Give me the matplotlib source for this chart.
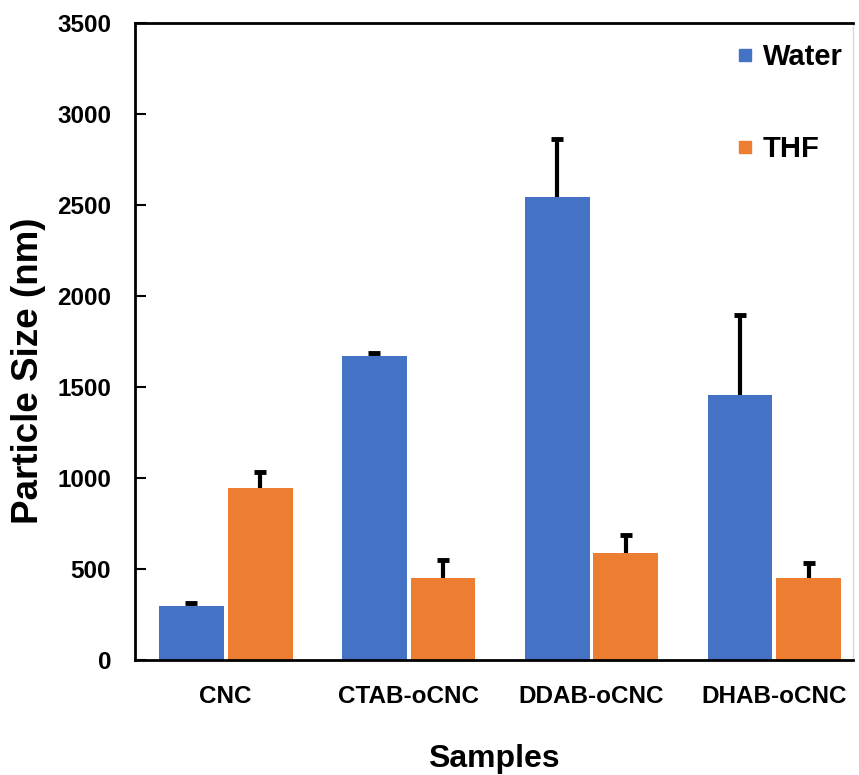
import matplotlib
matplotlib.use("Agg")
import matplotlib.pyplot as plt
from matplotlib.lines import Line2D
import numpy as np

plt.rcParams['font.family'] = ['Liberation Sans', 'DejaVu Sans']
plt.rcParams['font.weight'] = 'bold'

# data
samples = ["CNC", "CTAB-oCNC", "DDAB-oCNC", "DHAB-oCNC"]
water = [297, 1670, 2544, 1456]
water_err = [18, 20, 320, 440]
thf = [945, 450, 588, 450]
thf_err = [90, 100, 98, 83]

blue = "#4472C4"
orange = "#ED7D31"

fig = plt.figure(figsize=(8.59, 7.75), dpi=100)
ax = fig.add_axes([0.157, 0.148, 0.836, 0.822])

x = np.arange(len(samples))
w = 0.355
off = 0.188

ax.bar(x - off, water, width=w, color=blue, zorder=2)
ax.bar(x + off, thf, width=w, color=orange, zorder=2)

# one-sided error bars (upper only), hide the lower caps
for xs, ys, es in [(x - off, water, water_err), (x + off, thf, thf_err)]:
    eb = ax.errorbar(xs, ys, yerr=[np.zeros(len(ys)), es], fmt='none',
                     ecolor='black', elinewidth=3, capsize=4.5, capthick=3.5, zorder=3)
    eb[1][0].set_visible(False)

ax.set_xlim(-0.497, 3.43)
ax.set_ylim(0, 3500)
ax.set_yticks(np.arange(0, 3501, 500))
ax.set_xticks(x)
ax.set_xticklabels(samples, fontsize=17.5, fontweight='bold')
ax.tick_params(axis='x', length=0, pad=18)
ax.tick_params(axis='y', direction='in', length=8, width=1.5, labelsize=17.5, pad=17)
for lab in ax.get_yticklabels():
    lab.set_fontweight('bold')

ax.set_xlabel("Samples", fontsize=23, fontweight='bold', labelpad=26)
ax.set_ylabel("Particle Size (nm)", fontsize=26.5, fontweight='bold')
ax.yaxis.set_label_coords(-0.124, 0.455)

for s in ['left', 'bottom', 'top']:
    ax.spines[s].set_linewidth(2)
    ax.spines[s].set_color('black')
ax.spines['right'].set_color('#d9d9d9')
ax.spines['right'].set_linewidth(1)

handles = [Line2D([], [], marker='s', linestyle='none', color=blue, markersize=9),
           Line2D([], [], marker='s', linestyle='none', color=orange, markersize=9)]
ax.legend(handles, ["Water", "THF"], loc='upper right', bbox_to_anchor=(1.0, 0.985),
          frameon=False, prop={'size': 21, 'weight': 'bold'}, handlelength=0.6,
          handletextpad=0.3, labelspacing=2.2, borderaxespad=0.0, borderpad=0.35)

fig.savefig("out.png", dpi=100)
